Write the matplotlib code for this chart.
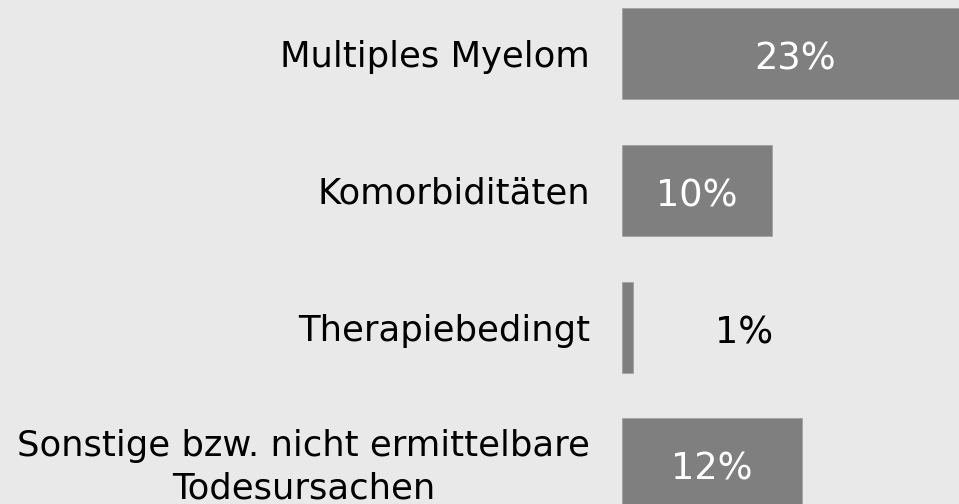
import matplotlib
matplotlib.use("Agg")
import matplotlib.pyplot as plt

# data
categories = ["Multiples Myelom", "Komorbiditäten", "Therapiebedingt",
              "Sonstige bzw. nicht ermittelbare\nTodesursachen"]
values = [23, 10, 0.7, 12]          # bar lengths
value_labels = ["23%", "10%", "1%", "12%"]

BG = "#e9e9e9"
BAR = "#7f7f7f"
PX = 72 / 100  # points per pixel at dpi 100

fig = plt.figure(figsize=(9.59, 5.04), dpi=100)
fig.patch.set_facecolor(BG)

ax = fig.add_axes([622 / 959, 0, 337 / 959, 1])
ax.set_facecolor(BG)
ax.set_xlim(0, 22.45)
ax.set_ylim(3.292, -0.387)
ax.axis("off")

ypos = list(range(len(values)))
ax.barh(ypos, values, height=91 / 137, color=BAR, edgecolor="#999999", linewidth=0.4)

for y, v, lab, cat in zip(ypos, values, value_labels, categories):
    # value label, baseline a bit below bar centre
    if v >= 5:
        ax.annotate(lab, (v / 2, y), xytext=(0, -16 * PX), textcoords="offset points",
                    ha="center", va="baseline", color="white", fontsize=26.5)
    else:
        ax.annotate(lab, (v + 7.4, y), xytext=(0, -16.5 * PX), textcoords="offset points",
                    ha="center", va="baseline", color="black", fontsize=26.5)
    # category label left of the bars, block centred on the bar
    # (baseline alignment goes by the last line)
    nlines = cat.count("\n") + 1
    dy = 13.5 + (nlines - 1) * 21
    ax.annotate(cat, (0, y), xytext=(-32 * PX, -dy * PX), textcoords="offset points",
                ha="right", va="baseline", multialignment="center",
                color="black", fontsize=25.5, linespacing=1.3, annotation_clip=False)

fig.savefig("out.png", dpi=100, facecolor=BG)
